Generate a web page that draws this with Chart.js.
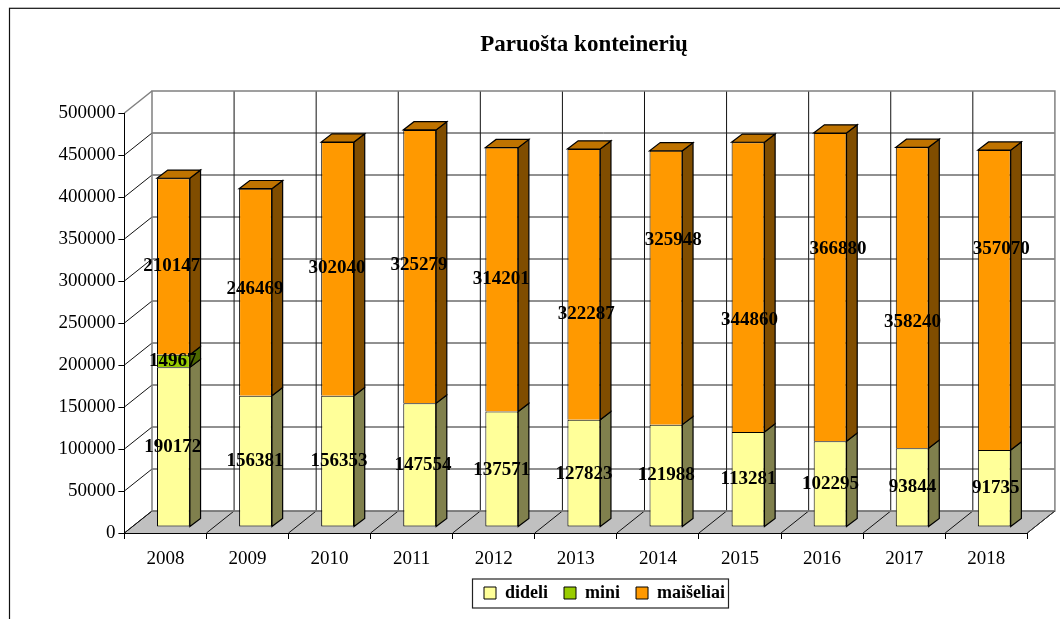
<!DOCTYPE html>
<html><head><meta charset="utf-8">
<style>html,body{margin:0;padding:0;background:#fff}canvas{display:block}</style>
<script src="https://cdn.jsdelivr.net/npm/chart.js@4/dist/chart.umd.min.js"></script>
</head><body><canvas id="c" width="1060" height="619"></canvas>
<script>
const years = ['2008','2009','2010','2011','2012','2013','2014','2015','2016','2017','2018'];
const dideli = [190172,156381,156353,147554,137571,127823,121988,113281,102295,93844,91735];
const mini = [14967,null,null,null,null,null,null,null,null,null,null];
const maiseliai = [210147,246469,302040,325279,314201,322287,325948,344860,366880,358240,357070];
const titleText = 'Paruošta konteinerių';
const FONT = '"Liberation Serif","Times New Roman",serif';
const faceColors = [
  {side:'#80804D', top:'#BFBF73'},
  {side:'#4D6600', top:'#739900'},
  {side:'#804D00', top:'#BF7300'}
];
const WALL = {dx:27.6, dy:-22};      // floor/wall depth
const FRONT = {dx:8, dy:-5.9};       // bar front plane inside the depth
const SIDE = {dx:10.7, dy:-8.2};     // bar depth
// hand-moved data labels in the original: nudge from the default position, per dataset
const labelNudgeX = [
  [0,0,2,4,0.5,0.8,1,1,1,1,2],
  [0,0,0,0,0,0,0,0,0,0,0],
  [-1,0,0,0,0,3,8,2,8.5,1,7.7]
];
const labelNudgeY = [
  [0,0,0,0,1,1,0,0,0,0,0],
  [0,0,0,0,0,0,0,0,0,0,0],
  [0,-3,-1,-1,0,30,-48,33,-38,24,-51]
];

function poly(ctx, pts, fill, stroke, lw){
  ctx.beginPath();
  pts.forEach((p,i)=> i?ctx.lineTo(p[0],p[1]):ctx.moveTo(p[0],p[1]));
  ctx.closePath();
  if(fill){ctx.fillStyle=fill;ctx.fill();}
  if(stroke){ctx.strokeStyle=stroke;ctx.lineWidth=lw||1;ctx.stroke();}
}
function seg(ctx,x1,y1,x2,y2,color,lw){
  ctx.beginPath();ctx.moveTo(x1,y1);ctx.lineTo(x2,y2);
  ctx.strokeStyle=color;ctx.lineWidth=lw||1;ctx.stroke();
}
const scene = {
  id:'scene',
  afterLayout(chart){
    const l = chart.legend;
    l.left = 484 - l.options.labels.padding; l.right = 1000; l.top = 568;
    const t = chart.titleBlock;
    t.left = 384; t.right = 784;
  },
  beforeDraw(chart){
    const {ctx} = chart, x = chart.scales.x, y = chart.scales.y;
    const d = WALL, L = x.left, R = x.right, B = y.bottom, T = y.top;
    ctx.save();
    // page frame
    ctx.lineWidth = 1.2; ctx.strokeStyle = '#111';
    ctx.strokeRect(9.5, 8.3, 1200, 800);
    // legend frame
    ctx.fillStyle='#fff'; ctx.fillRect(472.5,579,256,29);
    ctx.strokeStyle='#222'; ctx.strokeRect(472.5,579,256,29);
    // floor
    poly(ctx,[[L,B],[R,B],[R+d.dx,B+d.dy],[L+d.dx,B+d.dy]],'#C0C0C0');
    const step = x.width/years.length;
    for(let i=0;i<=years.length;i++){
      const px = L+i*step;
      seg(ctx,px,B,px+d.dx,B+d.dy,'#111');
      if(i>0 && i<years.length) seg(ctx,px+d.dx,B+d.dy,px+d.dx,T+d.dy,'#111');
    }
    // value gridlines
    y.ticks.forEach((t,i)=>{
      const py = y.getPixelForTick(i);
      const top = i===y.ticks.length-1;
      seg(ctx,L,py,L+d.dx,py+d.dy,top?'#808080':'#111',top?1.5:1);
      if(!top) seg(ctx,L+d.dx,py+d.dy,R+d.dx,py+d.dy,'#222');
    });
    // wall frame
    ctx.lineWidth=1.5; ctx.strokeStyle='#808080';
    ctx.strokeRect(L+d.dx,T+d.dy,R-L,B-T);
    seg(ctx,R,B,R+d.dx,B+d.dy,'#333',1);
    ctx.restore();
  },
  beforeDatasetsDraw(chart){
    const {ctx} = chart;
    ctx.save();
    ctx.translate(FRONT.dx,FRONT.dy);
    const n = chart.data.datasets.length;
    years.forEach((_,i)=>{
      let topEl=null, topIdx=0;
      for(let k=0;k<n;k++){
        const el = chart.getDatasetMeta(k).data[i];
        if(chart.data.datasets[k].data[i]==null) continue;
        const r = el.x+el.width/2;
        poly(ctx,[[r,el.y],[r+SIDE.dx,el.y+SIDE.dy],[r+SIDE.dx,el.base+SIDE.dy],[r,el.base]],faceColors[k].side,'#000',1.2);
        topEl=el; topIdx=k;
      }
      const l=topEl.x-topEl.width/2, r=topEl.x+topEl.width/2, t=topEl.y;
      poly(ctx,[[l,t],[r,t],[r+SIDE.dx,t+SIDE.dy],[l+SIDE.dx,t+SIDE.dy]],faceColors[topIdx].top,'#000',1.2);
    });
  },
  afterDatasetsDraw(chart){
    const {ctx} = chart;
    ctx.restore();
    ctx.save();
    ctx.font = 'bold 19px '+FONT;
    ctx.fillStyle='#000'; ctx.textAlign='center'; ctx.textBaseline='middle';
    chart.data.datasets.forEach((ds,k)=>{
      chart.getDatasetMeta(k).data.forEach((el,i)=>{
        if(ds.data[i]==null) return;
        ctx.fillText(String(ds.data[i]), el.x+7.4+labelNudgeX[k][i], (el.y+el.base)/2-6+labelNudgeY[k][i]);
      });
    });
    ctx.restore();
  }
};
new Chart(document.getElementById('c'),{
  type:'bar',
  data:{labels:years,datasets:[
    {label:'dideli',data:dideli,backgroundColor:'#FFFF99',borderColor:'#000',borderWidth:1,borderSkipped:false,clip:false},
    {label:'mini',data:mini,backgroundColor:'#99CC00',borderColor:'#000',borderWidth:1,clip:false},
    {label:'maišeliai',data:maiseliai,backgroundColor:'#FF9900',borderColor:'#000',borderWidth:1,clip:false}
  ]},
  options:{
    responsive:false,animation:false,
    layout:{padding:{left:0,right:32.7,top:0,bottom:0}},
    datasets:{bar:{categoryPercentage:1,barPercentage:0.4}},
    plugins:{
      tooltip:{enabled:false},
      title:{display:true,text:titleText,color:'#000',font:{family:FONT,size:23,weight:'bold'},padding:{top:31,bottom:54.4}},
      legend:{position:'bottom',align:'start',labels:{boxWidth:12,boxHeight:12,padding:16,color:'#000',font:{family:FONT,size:18,weight:'bold'}}}
    },
    scales:{
      x:{stacked:true,
        grid:{drawOnChartArea:false,tickColor:'#000',tickLength:6},
        border:{color:'#000'},
        ticks:{color:'#000',padding:9,maxRotation:0,font:{family:FONT,size:19}},
        afterFit(s){s.height=42;}},
      y:{stacked:true,min:0,max:500000,
        grid:{drawOnChartArea:false,tickColor:'#000',tickLength:6},
        border:{color:'#000'},
        ticks:{color:'#000',stepSize:50000,padding:3,font:{family:FONT,size:19},callback:v=>String(v)},
        afterFit(s){s.width=124.4;}}
    }
  },
  plugins:[scene]
});
</script></body></html>
